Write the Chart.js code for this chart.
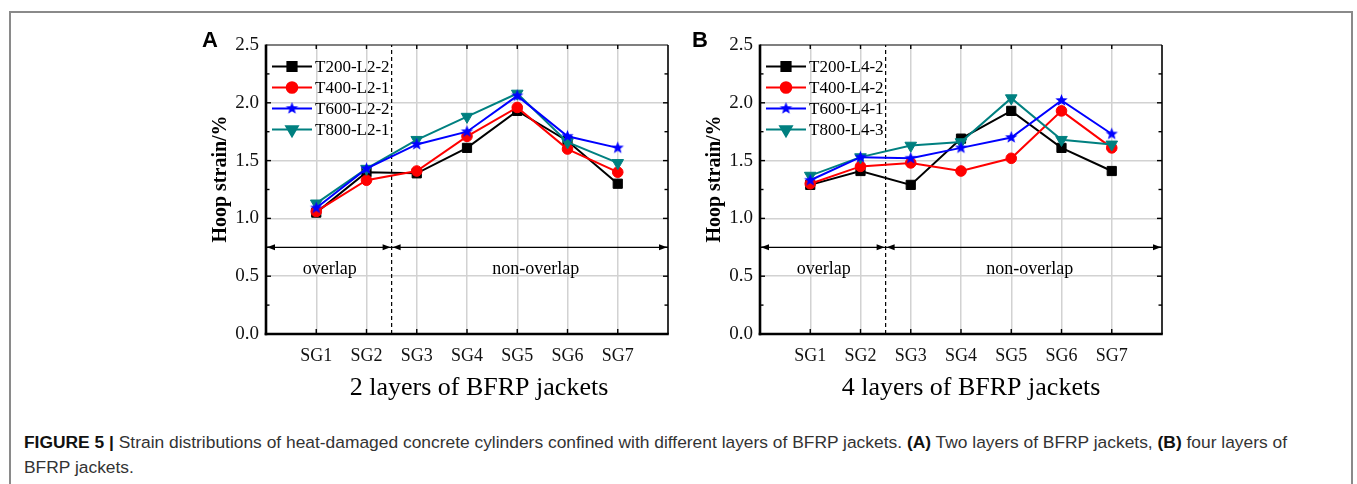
<!DOCTYPE html>
<html>
<head>
<meta charset="utf-8">
<script src="https://cdn.jsdelivr.net/npm/chart.js@4.4.1/dist/chart.umd.min.js"></script>
<style>
  html, body { margin: 0; padding: 0; background: #fff; }
  body { width: 1357px; height: 484px; position: relative; overflow: hidden; }
  #frame { position: absolute; left: 9px; top: 11px; width: 1344px; height: 520px;
           border: 2px solid #8a8a8a; box-sizing: border-box; }
  .panel { position: absolute; top: 20px; }
  #caption { position: absolute; left: 24px; top: 430px; width: 1320px;
             font: 17.4px 'Liberation Sans', Arial, sans-serif; line-height: 25px; color: #333; }
  #caption b { color: #111; }
</style>
</head>
<body>
<div id="frame"></div>
<canvas id="chartA" class="panel" width="500" height="400" style="left:190px"></canvas>
<canvas id="chartB" class="panel" width="500" height="400" style="left:684px"></canvas>
<div id="caption"><b>FIGURE 5 |</b> Strain distributions of heat-damaged concrete cylinders confined with different layers of BFRP jackets. <b>(A)</b> Two layers of BFRP jackets, <b>(B)</b> four layers of<br>BFRP jackets.</div>

<script>
// strain gauge positions
const sgLabels = ['SG1', 'SG2', 'SG3', 'SG4', 'SG5', 'SG6', 'SG7'];

// panel A - 2 layers
const namesA = ['T200-L2-2', 'T400-L2-1', 'T600-L2-2', 'T800-L2-1'];
const t200A = [1.05, 1.40, 1.39, 1.61, 1.93, 1.67, 1.30];
const t400A = [1.06, 1.33, 1.41, 1.71, 1.96, 1.60, 1.40];
const t600A = [1.09, 1.43, 1.64, 1.75, 2.06, 1.71, 1.61];
const t800A = [1.13, 1.43, 1.68, 1.88, 2.08, 1.66, 1.48];

// panel B - 4 layers
const namesB = ['T200-L4-2', 'T400-L4-2', 'T600-L4-1', 'T800-L4-3'];
const t200B = [1.29, 1.41, 1.29, 1.69, 1.93, 1.61, 1.41];
const t400B = [1.30, 1.45, 1.48, 1.41, 1.52, 1.93, 1.61];
const t600B = [1.33, 1.53, 1.52, 1.61, 1.70, 2.02, 1.73];
const t800B = [1.37, 1.53, 1.63, 1.66, 2.04, 1.68, 1.64];

// overlap / non-overlap zones
const zoneLabels = ['overlap', 'non-overlap'];
const zoneLabelX = [1.27, 5.37];
const zoneLabelY = 0.56;
const zoneSplitX = 2.5;
const zoneArrowY = 0.75;

const SERIF = "'Liberation Serif', 'Times New Roman', serif";
const colors = ['#000000', '#ff0000', '#0000ff', '#008080'];

function starMarker(color, r) {
    const c = document.createElement('canvas');
    const s = Math.ceil(r * 2) + 2;
    c.width = c.height = s;
    const g = c.getContext('2d');
    g.fillStyle = color;
    g.beginPath();
    for (let k = 0; k < 10; k++) {
        const rr = k % 2 ? r * 0.42 : r;
        const a = -Math.PI / 2 + k * Math.PI / 5;
        g.lineTo(s / 2 + rr * Math.cos(a), s / 2 + rr * Math.sin(a));
    }
    g.closePath();
    g.fill();
    return c;
}

const markers = [
    { pointStyle: 'rect', radius: 6.5, rotation: 0 },
    { pointStyle: 'circle', radius: 5.3, rotation: 0 },
    { pointStyle: starMarker('#0000ff', 6.5), radius: 6, rotation: 0 },
    { pointStyle: 'triangle', radius: 6.7, rotation: 180 }
];
// drawing order: teal under blue, black at the bottom
const drawOrder = [3, 2, 0, 1];

function drawMarker(ctx, m, x, y) {
    if (m.pointStyle instanceof HTMLCanvasElement) {
        ctx.drawImage(m.pointStyle, x - m.pointStyle.width / 2, y - m.pointStyle.height / 2);
        return;
    }
    if (window.Chart && Chart.helpers && Chart.helpers.drawPoint) {
        Chart.helpers.drawPoint(ctx, { pointStyle: m.pointStyle, rotation: m.rotation, radius: m.radius, borderWidth: 1 }, x, y);
    }
}

function line(ctx, x1, y1, x2, y2) {
    ctx.beginPath();
    ctx.moveTo(x1, y1);
    ctx.lineTo(x2, y2);
    ctx.stroke();
}

function arrowHead(ctx, x, y, dir) {
    ctx.beginPath();
    ctx.moveTo(x, y);
    ctx.lineTo(x - dir * 8, y - 3);
    ctx.lineTo(x - dir * 8, y + 3);
    ctx.closePath();
    ctx.fill();
}

function makePanel(canvasId, letter, letterX, xTitle, xTitleX, names, series) {
    const ctx = document.getElementById(canvasId).getContext('2d');

    const decor = {
        id: 'decor',
        beforeDatasetsDraw(chart) {
            const c = chart.ctx;
            const xs = chart.scales.x, ys = chart.scales.y;
            const { left, right, top, bottom } = chart.chartArea;
            c.save();
            // dashed split line
            c.strokeStyle = '#000';
            c.lineWidth = 1.2;
            c.setLineDash([4, 3]);
            const sx = xs.getPixelForValue(zoneSplitX);
            line(c, sx, bottom, sx, top);
            c.setLineDash([]);
            // zone arrows
            const ay = ys.getPixelForValue(zoneArrowY);
            c.fillStyle = '#000';
            line(c, left, ay, right, ay);
            arrowHead(c, left + 1, ay, -1);
            arrowHead(c, sx - 1, ay, 1);
            arrowHead(c, sx + 1, ay, -1);
            arrowHead(c, right - 1, ay, 1);
            // zone labels
            c.font = '18px ' + SERIF;
            c.textAlign = 'center';
            c.textBaseline = 'middle';
            zoneLabels.forEach((t, i) => {
                c.fillText(t, xs.getPixelForValue(zoneLabelX[i]), ys.getPixelForValue(zoneLabelY));
            });
            c.restore();
        },
        afterDraw(chart) {
            const c = chart.ctx;
            const xs = chart.scales.x, ys = chart.scales.y;
            const { left, right, top, bottom } = chart.chartArea;
            c.save();
            c.strokeStyle = '#000';
            // frame
            c.lineWidth = 1.2;
            line(c, left, top, right, top);
            c.lineWidth = 1.6;
            line(c, right, top, right, bottom);
            c.lineWidth = 2.6;
            line(c, left, top - 0.6, left, bottom + 1.3);
            line(c, left - 1.3, bottom, right + 0.8, bottom);
            // inward ticks
            c.lineWidth = 1.4;
            for (let v = 0.25; v < 2.5; v += 0.25) {
                const py = ys.getPixelForValue(v);
                const len = Math.abs(v * 2 - Math.round(v * 2)) < 1e-6 ? 5 : 3.5;
                line(c, left, py, left + len, py);
                line(c, right, py, right - len, py);
            }
            for (let i = 1; i <= sgLabels.length; i++) {
                const px = xs.getPixelForValue(i);
                line(c, px, bottom, px, bottom - 5);
                line(c, px, top, px, top + 4);
            }
            // legend
            c.font = '17px ' + SERIF;
            c.textAlign = 'left';
            c.textBaseline = 'middle';
            names.forEach((n, i) => {
                const y = 46.5 + i * 21;
                c.strokeStyle = colors[i];
                c.fillStyle = colors[i];
                c.lineWidth = 2;
                line(c, 82, y, 122, y);
                drawMarker(c, markers[i], 102, y);
                c.fillStyle = '#000';
                c.fillText(n, 125, y + 1);
            });
            // axis titles
            c.fillStyle = '#000';
            c.font = '26px ' + SERIF;
            c.textAlign = 'center';
            c.fillText(xTitle, xTitleX, 368);
            c.save();
            c.translate(31, 159);
            c.rotate(-Math.PI / 2);
            c.font = 'bold 20px ' + SERIF;
            c.fillText('Hoop strain/%', 0, 0);
            c.restore();
            // panel letter
            c.font = "bold 22px 'Liberation Sans', Arial, sans-serif";
            c.textAlign = 'left';
            c.textBaseline = 'alphabetic';
            c.fillText(letter, letterX, 27);
            c.restore();
        }
    };

    const datasets = series.map((vals, i) => ({
        label: names[i],
        data: vals.map((v, k) => ({ x: k + 1, y: v })),
        borderColor: colors[i],
        backgroundColor: colors[i],
        borderWidth: 2,
        pointStyle: markers[i].pointStyle,
        pointRadius: markers[i].radius,
        pointRotation: markers[i].rotation,
        pointBorderWidth: 1,
        pointBorderColor: colors[i],
        pointBackgroundColor: colors[i],
        tension: 0,
        order: drawOrder[i]
    }));

    new Chart(ctx, {
        type: 'line',
        data: { datasets },
        options: {
            responsive: false,
            animation: false,
            layout: { padding: { left: 20, top: 25, right: 22, bottom: 0 } },
            plugins: { legend: { display: false }, tooltip: { enabled: false } },
            scales: {
                x: {
                    type: 'linear',
                    min: 0,
                    max: 8,
                    afterFit: (s) => { s.height = 86; },
                    border: { display: false },
                    grid: {
                        drawTicks: false,
                        lineWidth: 1.5,
                        color: (c) => (c.tick.value <= 0 || c.tick.value >= 8) ? 'rgba(0,0,0,0)' : '#d2d2d2'
                    },
                    ticks: {
                        stepSize: 1,
                        padding: 11,
                        color: '#111',
                        font: { family: SERIF, size: 18 },
                        callback: (v) => (v >= 1 && v <= 7) ? sgLabels[v - 1] : ''
                    }
                },
                y: {
                    min: 0,
                    max: 2.5,
                    afterFit: (s) => { s.width = 56; },
                    border: { display: false },
                    grid: {
                        drawTicks: false,
                        lineWidth: 1.5,
                        color: (c) => (c.tick.value <= 0 || c.tick.value >= 2.5) ? 'rgba(0,0,0,0)' : '#d2d2d2'
                    },
                    ticks: {
                        stepSize: 0.5,
                        padding: 7,
                        color: '#111',
                        font: { family: SERIF, size: 19 },
                        callback: (v) => v.toFixed(1)
                    }
                }
            }
        },
        plugins: [decor]
    });
}

makePanel('chartA', 'A', 12, '2 layers of BFRP jackets', 289, namesA, [t200A, t400A, t600A, t800A]);
makePanel('chartB', 'B', 8, '4 layers of BFRP jackets', 287, namesB, [t200B, t400B, t600B, t800B]);
</script>
</body>
</html>
